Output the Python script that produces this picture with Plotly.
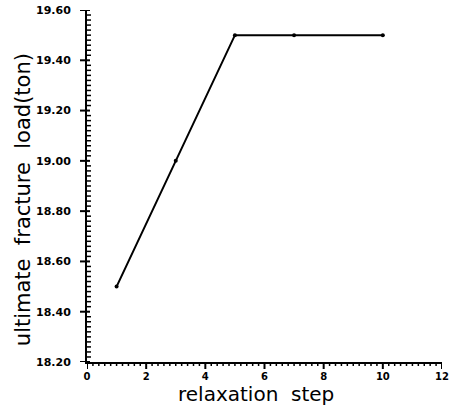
import numpy as np
import plotly.graph_objects as go

# relaxation step vs. ultimate fracture load
steps = [1, 3, 5, 7, 10]
loads = [18.5, 19.0, 19.5, 19.5, 19.5]

x_range = [0, 12]
y_range = [18.2, 19.6]
x_major, x_minor = 2, 0.2
y_major, y_minor = 0.2, 0.02

x_title = "relaxation\u00a0\u00a0step"
y_title = "ultimate\u00a0\u00a0fracture\u00a0\u00a0load(ton)"

W, H = 453, 407
M = dict(l=87, r=11, t=10, b=45)
plot_w = W - M["l"] - M["r"]
plot_h = H - M["t"] - M["b"]

fig = go.Figure(go.Scatter(
    x=steps, y=loads, mode="lines+markers",
    line=dict(color="black", width=2),
    marker=dict(color="black", size=4),
    showlegend=False,
))

# tick marks along both axes, as thin line shapes
shapes = []
for v in np.arange(x_range[0], x_range[1] + 1e-9, x_minor):
    major = abs(v / x_major - round(v / x_major)) < 1e-6
    ln = 7 if major else 4
    shapes.append(dict(type="line", xref="x", yref="paper", x0=v, x1=v,
                       y0=0, y1=-ln / plot_h,
                       line=dict(color="black", width=2 if major else 1.5)))
for v in np.arange(y_range[0], y_range[1] + 1e-9, y_minor):
    major = abs((v - y_range[0]) / y_major - round((v - y_range[0]) / y_major)) < 1e-6
    if major:
        shapes.append(dict(type="line", xref="paper", yref="y", x0=-7 / plot_w, x1=3 / plot_w,
                           y0=v, y1=v, line=dict(color="black", width=2)))
    else:
        shapes.append(dict(type="line", xref="paper", yref="y", x0=0, x1=4 / plot_w,
                           y0=v, y1=v, line=dict(color="black", width=1.5)))

fig.update_layout(
    template="none",
    width=W, height=H, margin=M,
    paper_bgcolor="white", plot_bgcolor="white",
    shapes=shapes,
    xaxis=dict(
        range=x_range, tickmode="linear", tick0=0, dtick=x_major,
        showgrid=False, zeroline=False,
        showline=True, linecolor="black", linewidth=2,
        ticks="", ticklabelstandoff=4,
        tickfont=dict(family="DejaVu Sans", size=10, color="black", weight="bold"),
    ),
    yaxis=dict(
        range=y_range, tickmode="linear", tick0=y_range[0], dtick=y_major, tickformat=".2f",
        showgrid=False, zeroline=False,
        showline=True, linecolor="black", linewidth=2,
        ticks="", ticklabelstandoff=12,
        tickfont=dict(family="DejaVu Sans", size=11, color="black", weight="bold"),
    ),
    annotations=[
        dict(text=x_title, xref="paper", yref="paper", x=0.476, y=-0.051,
             xanchor="center", yanchor="top", showarrow=False,
             font=dict(family="DejaVu Sans", size=20, color="black")),
        dict(text=y_title, xref="paper", yref="paper", x=-0.18, y=0.46,
             xanchor="center", yanchor="middle", textangle=-90, showarrow=False,
             font=dict(family="DejaVu Sans", size=21, color="black")),
    ],
)

fig.write_html("out.html")
